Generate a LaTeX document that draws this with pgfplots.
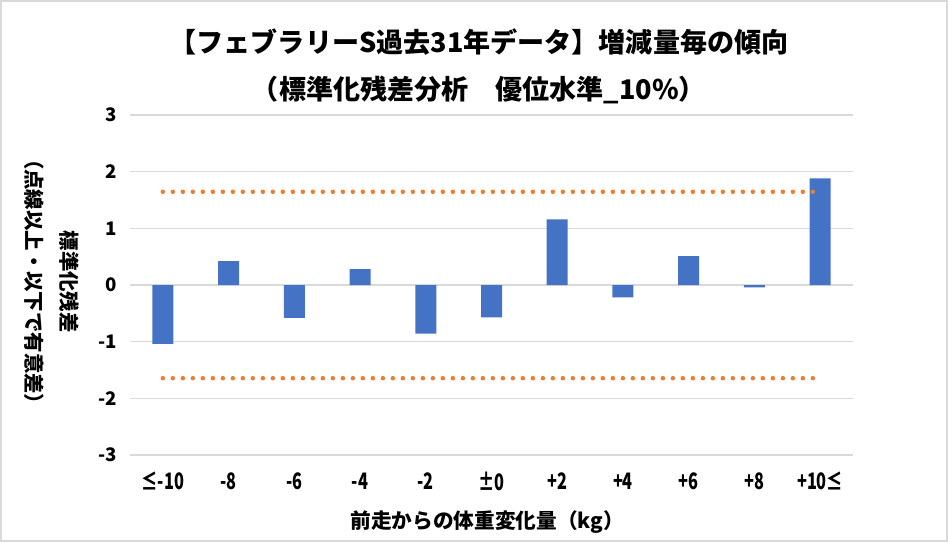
\documentclass[border=0pt]{standalone}
\usepackage{fontspec}
\setmainfont{Noto Sans CJK JP}
\newfontfamily\condfont{Noto Sans CJK JP}[FakeStretch=0.72]
\usepackage{pgfplots}
\pgfplotsset{compat=1.18}
\definecolor{barblue}{HTML}{4472C4}
\definecolor{dotorange}{HTML}{ED7D31}
\definecolor{gridgray}{HTML}{D9D9D9}
\begin{document}
\begin{tikzpicture}
\useasboundingbox (-97.5pt,-65.25pt) rectangle (613.5pt,341.25pt);
\draw[gridgray, line width=1.5pt] (-96.75pt,-64.5pt) rectangle (612.75pt,340.5pt);
\begin{axis}[
 at={(0,0)}, anchor=south west,
 scale only axis, width=542.25pt, height=255pt,
 xmin=-0.5, xmax=10.5, ymin=-3, ymax=3,
 xtick={0,...,10}, xticklabels={≤-10,-8,-6,-4,-2,±0,+2,+4,+6,+8,+10≤},
 ytick={-3,...,3},
 ymajorgrids, grid style={gridgray, line width=1.1pt},
 axis line style={draw=none},
 major tick length=0pt,
 xticklabel style={font=\condfont\bfseries\fontsize{17}{19}\selectfont, anchor=center, yshift=-19.5pt},
 yticklabel style={font=\bfseries\fontsize{14}{16}\selectfont, anchor=east, xshift=-6pt},
 /pgf/number format/assume math mode=true,
 clip=false,
]
\addplot[ybar, bar width=15.75pt, fill=barblue, draw=none] coordinates {
(0,-1.04) (1,0.42) (2,-0.58) (3,0.28) (4,-0.86) (5,-0.57) (6,1.16) (7,-0.22) (8,0.51) (9,-0.04) (10,1.88)};
\addplot[dotorange, line width=3.4pt, line cap=round, dash pattern=on 0pt off 7.5pt] coordinates {(0,1.645) (10,1.645)};
\addplot[dotorange, line width=3.4pt, line cap=round, dash pattern=on 0pt off 7.5pt] coordinates {(0,-1.645) (10,-1.645)};
\end{axis}
\node[font=\bfseries\fontsize{20.3}{24}\selectfont] at (261.75pt,309.75pt) {【フェブラリーS過去31年データ】増減量毎の傾向};
\node[font=\bfseries\fontsize{20.3}{24}\selectfont] at (261.75pt,273.75pt) {（標準化残差分析　優位水準\_10\%）};
\node[font=\bfseries\fontsize{15.5}{18}\selectfont] at (268pt,-50.25pt) {前走からの体重変化量（kg）};
\node[rotate=-90, align=center, font=\bfseries\fontsize{15.3}{26}\selectfont] at (-58.5pt,130pt) {標準化残差\\（点線以上・以下で有意差）};
\end{tikzpicture}
\end{document}
